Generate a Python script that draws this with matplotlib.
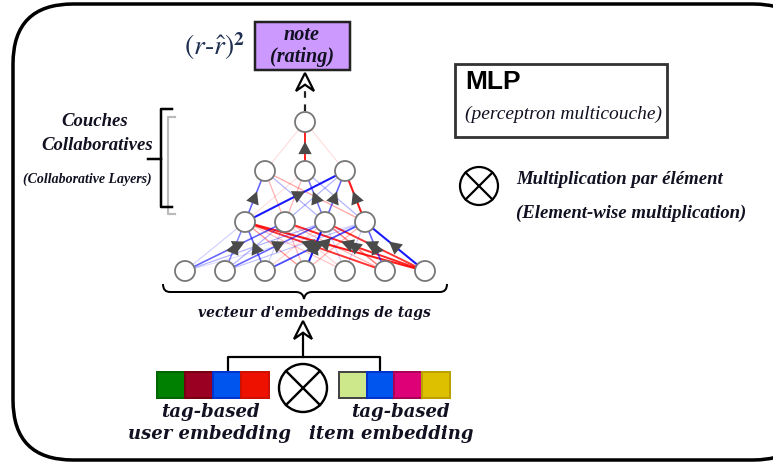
#Imports
import matplotlib
matplotlib.use('Agg')
import matplotlib.pyplot as plt
from matplotlib.patches import FancyBboxPatch, Rectangle, Circle, Polygon, PathPatch
from matplotlib.path import Path
import numpy as np

plt.rcParams['mathtext.fontset'] = 'stix'

#data
layer_sizes = [7, 4, 3, 1]
# weights from layer k to layer k+1 : rows = target node, cols = source node
# positive -> red, negative -> blue, magnitude -> strength
w_in_l2 = [[-0.20, -0.50, -0.60, 0.40, 0.25, 0.80, 0.90],
           [-0.60, -0.30, -0.20, 0.30, 0.20, 0.30, 0.85],
           [-0.30, -0.60, 0.20, -0.90, -0.20, 0.50, 0.80],
           [-0.15, -0.25, -0.70, 0.30, -0.20, -0.60, -0.90]]
w_l2_l3 = [[-0.60, 0.30, -0.30, 0.35],
           [0.15, 0.30, -0.55, -0.30],
           [-0.90, -0.30, -0.60, 0.90]]
w_l3_out = [[0.15, 0.85, 0.15]]
weights = [w_in_l2, w_l2_l3, w_l3_out]

user_colors = ['#008000', '#990022', '#0055EE', '#EE1100']
user_edges = ['#006600', '#770011', '#0033CC', '#CC1100']
item_colors = ['#CCE88A', '#0055EE', '#DD0077', '#DDC000']
item_edges = ['#444444', '#0033CC', '#AA0055', '#BBA000']

W, H = 773, 464
PX = 0.72  # points per pixel at dpi 100

fig = plt.figure(figsize=(W / 100, H / 100), dpi=100)
ax = fig.add_axes([0, 0, 1, 1])
ax.set_xlim(0, W)
ax.set_ylim(H, 0)
ax.axis('off')

serif = ['Liberation Serif', 'DejaVu Serif']
wide = ['DejaVu Serif']
ink = '#111122'

# outer rounded frame
ax.add_patch(FancyBboxPatch((13, 5), 800, 456, boxstyle='round,pad=0,rounding_size=60',
                            fc='white', ec='black', lw=3.5 * PX, zorder=0))

# network layout
cx = 305
layer_y = [272, 223, 172, 123]
spacing = 40
r_node = 10
pos = []
for n, y in zip(layer_sizes, layer_y):
    xs = cx + (np.arange(n) - (n - 1) / 2) * spacing
    pos.append([(x, y) for x in xs])


def arrow_head(p0, p1, t=0.6):
    p0 = np.array(p0); p1 = np.array(p1)
    head = p0 + t * (p1 - p0)
    tail = p0 + (t - 0.04) * (p1 - p0)
    ax.annotate('', xy=head, xytext=tail,
                arrowprops=dict(arrowstyle='-|>,head_length=0.6,head_width=0.32',
                                color='#4a4a4a', lw=0, shrinkA=0, shrinkB=0,
                                mutation_scale=15), zorder=4)


for k, wm in enumerate(weights):
    for j, row in enumerate(wm):
        for i, w in enumerate(row):
            p0 = pos[k][i]
            p1 = pos[k + 1][j]
            col = '#FF0000' if w > 0 else '#0000FF'
            a = min(1.0, abs(w))
            ax.plot([p0[0], p1[0]], [p0[1], p1[1]], color=col, alpha=a,
                    lw=(0.8 + 1.4 * a) * PX, zorder=2, solid_capstyle='round')
            if abs(w) >= 0.5:
                arrow_head(p0, p1)

for layer in pos:
    for (x, y) in layer:
        ax.add_patch(Circle((x, y), r_node, fc='white', ec='#777777', lw=1.8 * PX, zorder=5))


def open_arrow(x, tip_y, base_y, half_w=9):
    notch = tip_y + (base_y - tip_y) * 0.65
    ax.add_patch(Polygon([(x, tip_y), (x - half_w, base_y), (x, notch), (x + half_w, base_y)],
                         closed=True, fc='white', ec='black', lw=2.2 * PX, zorder=6))


# dashed arrow to output box
ax.plot([cx, cx], [112, 86], color='#222222', lw=2.2 * PX, ls=(0, (3, 3)), zorder=3)
open_arrow(cx, 74, 92)

# output box
ax.add_patch(Rectangle((255, 23), 95, 48, fc='#CC99FF', ec='#222222', lw=2.5 * PX, zorder=3))
ax.text(302, 35, 'note', ha='center', va='center', fontsize=14.5, fontweight='bold',
        fontstyle='italic', family=serif, color=ink, zorder=4)
ax.text(302, 57, '(rating)', ha='center', va='center', fontsize=14.5, fontweight='bold',
        fontstyle='italic', family=serif, color=ink, zorder=4)
ax.text(215, 46, r'$(r\text{-}\hat{r})^{\mathbf{2}}$', ha='center', va='center', fontsize=20,
        color='#1f2f4f')

# brackets for collaborative layers
ax.plot([175, 168, 168, 175], [118, 118, 215, 215], color='#BBBBBB', lw=2.2 * PX, zorder=1)
ax.plot([172, 161, 161, 172], [110, 110, 208, 208], color='black', lw=2.5 * PX, zorder=2)
ax.plot([148, 161], [160, 160], color='black', lw=2.5 * PX, zorder=2)
ax.text(95, 122, 'Couches', ha='center', va='center', fontsize=13.5, fontweight='bold',
        fontstyle='italic', family=serif, color=ink)
ax.text(97, 146, 'Collaboratives', ha='center', va='center', fontsize=13.5, fontweight='bold',
        fontstyle='italic', family=serif, color=ink)
ax.text(87, 179, '(Collaborative Layers)', ha='center', va='center', fontsize=10,
        fontweight='bold', fontstyle='italic', family=serif, color=ink)

# curly brace under input layer
brace = Path([(163, 285), (163, 293), (170, 293),
              (296, 293), (303, 293), (304, 300),
              (305, 293), (312, 293),
              (440, 293), (447, 293), (447, 285)],
             [Path.MOVETO, Path.CURVE3, Path.CURVE3,
              Path.LINETO, Path.CURVE3, Path.CURVE3,
              Path.CURVE3, Path.CURVE3,
              Path.LINETO, Path.CURVE3, Path.CURVE3])
ax.add_patch(PathPatch(brace, fc='none', ec='black', lw=2.0 * PX, zorder=3))
ax.text(314, 313, "vecteur d'embeddings de tags", ha='center', va='center', fontsize=10,
        fontweight='bold', fontstyle='italic', family=wide, color=ink)

# embedding merge
ax.plot([228, 228, 380, 380], [373, 358, 358, 373], color='black', lw=2.2 * PX, zorder=3)
ax.plot([303, 303], [358, 334], color='black', lw=2.2 * PX, zorder=3)
open_arrow(303, 322, 340)


def otimes(x, y, r, lw):
    ax.add_patch(Circle((x, y), r, fc='white', ec='black', lw=lw, zorder=4))
    d = r / np.sqrt(2)
    ax.plot([x - d, x + d], [y - d, y + d], color='black', lw=lw, zorder=5)
    ax.plot([x - d, x + d], [y + d, y - d], color='black', lw=lw, zorder=5)


otimes(303, 389, 24, 2.4 * PX)

for i, (fc, ec) in enumerate(zip(user_colors, user_edges)):
    ax.add_patch(Rectangle((157 + 28 * i, 373), 28, 26, fc=fc, ec=ec, lw=2 * PX, zorder=3))
for i, (fc, ec) in enumerate(zip(item_colors, item_edges)):
    ax.add_patch(Rectangle((339 + 27.7 * i, 373), 27.7, 26, fc=fc, ec=ec, lw=2 * PX, zorder=3))

lab = dict(ha='center', va='center', fontsize=13, fontweight='bold', fontstyle='italic',
           family=wide, color=ink)
ax.text(210, 412, 'tag-based', **lab)
ax.text(210, 434, 'user embedding', **lab)
ax.text(400, 412, 'tag-based', **lab)
ax.text(391, 434, 'item embedding', **lab)

# MLP legend box
ax.add_patch(Rectangle((455, 65), 212, 73, fc='white', ec='#333333', lw=2.8 * PX, zorder=3))
ax.text(465, 82, 'MLP', ha='left', va='center', fontsize=19, fontweight='bold',
        family=['Liberation Sans', 'DejaVu Sans'], color='black', zorder=4)
ax.text(465, 114, '(perceptron multicouche)', ha='left', va='center', fontsize=14,
        fontstyle='italic', family=serif, color=ink, zorder=4)

otimes(479, 187, 19, 2.2 * PX)
ax.text(516, 180, 'Multiplication par élément', ha='left', va='center', fontsize=13.5,
        fontweight='bold', fontstyle='italic', family=serif, color=ink)
ax.text(516, 213, '(Element-wise multiplication)', ha='left', va='center', fontsize=13.5,
        fontweight='bold', fontstyle='italic', family=serif, color=ink)

fig.savefig('out.png', dpi=100)
